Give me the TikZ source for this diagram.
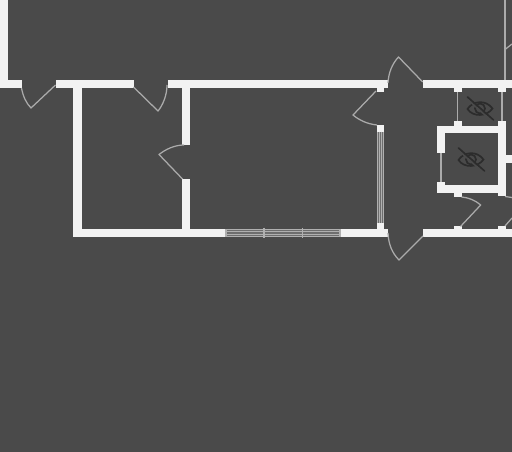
\documentclass[tikz,border=0pt]{standalone}
\tikzset{
  wallfill/.style={fill=wallc,draw=none},
  leaf/.style={draw=leafc,line width=1.25pt,line join=round},
  eyeline/.style={draw=eyec,line width=1.7pt,line cap=round},
  winbody/.style={fill=wingray,draw=none},
  winline/.style={draw=winl,line width=0.8pt}
}
\definecolor{bgc}{HTML}{4A4A4A}
\definecolor{wallc}{HTML}{F2F2F2}
\definecolor{leafc}{HTML}{ABABAB}
\definecolor{eyec}{HTML}{2C2C2C}
\definecolor{wingray}{HTML}{6E6E6E}
\definecolor{winl}{HTML}{B0B0B0}
\newcommand{\wallrect}[4]{\fill[wallfill] (#1,#2) rectangle (#3,#4);}
\newcommand{\eyeicon}[2]{%
  \begin{scope}[shift={(#1,#2)}]
    \draw[eyeline] (-12.5,0.5) .. controls (-7,-8) and (6,-9) .. (12.5,0) .. controls (7,8) and (-7,9) .. (-12.5,0.5) -- cycle;
    \draw[eyeline] (0,0) circle (5);
    \draw[eyeline] (-12.5,-11.5) -- (13.5,11.5);
    \draw[draw=bgc,line width=1.4pt] (-12.5,-9) -- (13.5,14);
  \end{scope}}
\begin{document}
\begin{tikzpicture}[x=1pt,y=-1pt]
\useasboundingbox (0,0) rectangle (512,452);
\fill[bgc] (0,0) rectangle (512,452);
% outer walls
\wallrect{0}{0}{7.5}{80}
\wallrect{0}{80}{21.5}{88.3}
\wallrect{55.5}{80}{133.5}{88.3}
\wallrect{168}{80}{388}{88.3}
\wallrect{423}{80}{512}{88.3}
\wallrect{73.3}{88}{81.7}{237}
\wallrect{182.3}{88}{190}{145}
\wallrect{182.3}{179}{190}{229}
\wallrect{73.3}{228.5}{225}{237}
\wallrect{341}{228.8}{388}{237}
\wallrect{423}{228.8}{512}{237}
% jamb stubs
\wallrect{376.5}{88}{384}{92}
\wallrect{376.5}{125}{384}{132}
\wallrect{376.5}{223}{384}{229}
\wallrect{453.7}{88}{461.7}{92.5}
\wallrect{498}{88}{506}{92.5}
\wallrect{453.7}{121}{461.7}{126}
% small room
\wallrect{437}{126}{506}{133.5}
\wallrect{437}{126}{444.5}{153}
\wallrect{498}{121}{506}{193}
\wallrect{437}{182}{444.5}{193}
\wallrect{437}{185}{506}{193}
\wallrect{506}{155}{512}{163}
\wallrect{453.5}{192}{461.5}{197}
\wallrect{498}{192}{506}{196}
\wallrect{453.7}{226}{461.7}{229}
\wallrect{498}{226}{506}{229}
% doors
\draw[leaf] (21.5,88) .. controls (23,96) and (26,103) .. (31,108) -- (55.5,85);
\draw[leaf] (133.5,87) -- (158,111) .. controls (163,105) and (167,95) .. (167,85);
\draw[leaf] (184,145) .. controls (175,145) and (166,149) .. (159,154.5) -- (182.5,179);
\draw[leaf] (388,83) .. controls (388.5,73) and (392,64) .. (398.5,57) -- (422.7,82);
\draw[leaf] (376,91) -- (353,115) .. controls (359,120) and (367,124) .. (377,125);
\draw[leaf] (388,233) .. controls (388.5,244) and (392,253) .. (399,260) -- (423,236);
\draw[leaf] (461.5,197) .. controls (468,197.5) and (475,200) .. (480.7,205) -- (460.5,226.5);
\draw[leaf] (505,226) -- (512,218);
\draw[leaf] (505,196.5) -- (512,197.5);
\draw[leaf] (505,80) -- (505,0);
\draw[leaf] (505,49.5) -- (512,44);
% thin partitions
\draw[leaf] (457.5,92) -- (457.5,121);
\draw[leaf] (502,92) -- (502,121);
\draw[leaf] (441,153) -- (441,182);
% vertical window
\fill[winbody] (376.7,132) rectangle (384,223);
\draw[winline] (376.9,132) -- (376.9,223);
\draw[winline] (379.3,132) -- (379.3,223);
\draw[winline] (381.6,132) -- (381.6,223);
\draw[winline] (383.8,132) -- (383.8,223);
% horizontal window
\fill[winbody] (225,228.5) rectangle (341,237);
\draw[winline] (225,229) -- (341,229);
\draw[winline] (225,236.5) -- (341,236.5);
\draw[winline] (225,231.6) -- (341,231.6);
\draw[winline] (225,234.2) -- (341,234.2);
\draw[winl,line width=1.2pt] (264,227.5) -- (264,237.5);
\draw[winl,line width=1.2pt] (302.5,227.5) -- (302.5,237.5);
\draw[winl,line width=1.2pt] (226,229) -- (226,236.5);
\draw[winl,line width=1.2pt] (340,229) -- (340,236.5);
% icons
\eyeicon{480}{108.5}
\eyeicon{471}{159.5}
\end{tikzpicture}
\end{document}
